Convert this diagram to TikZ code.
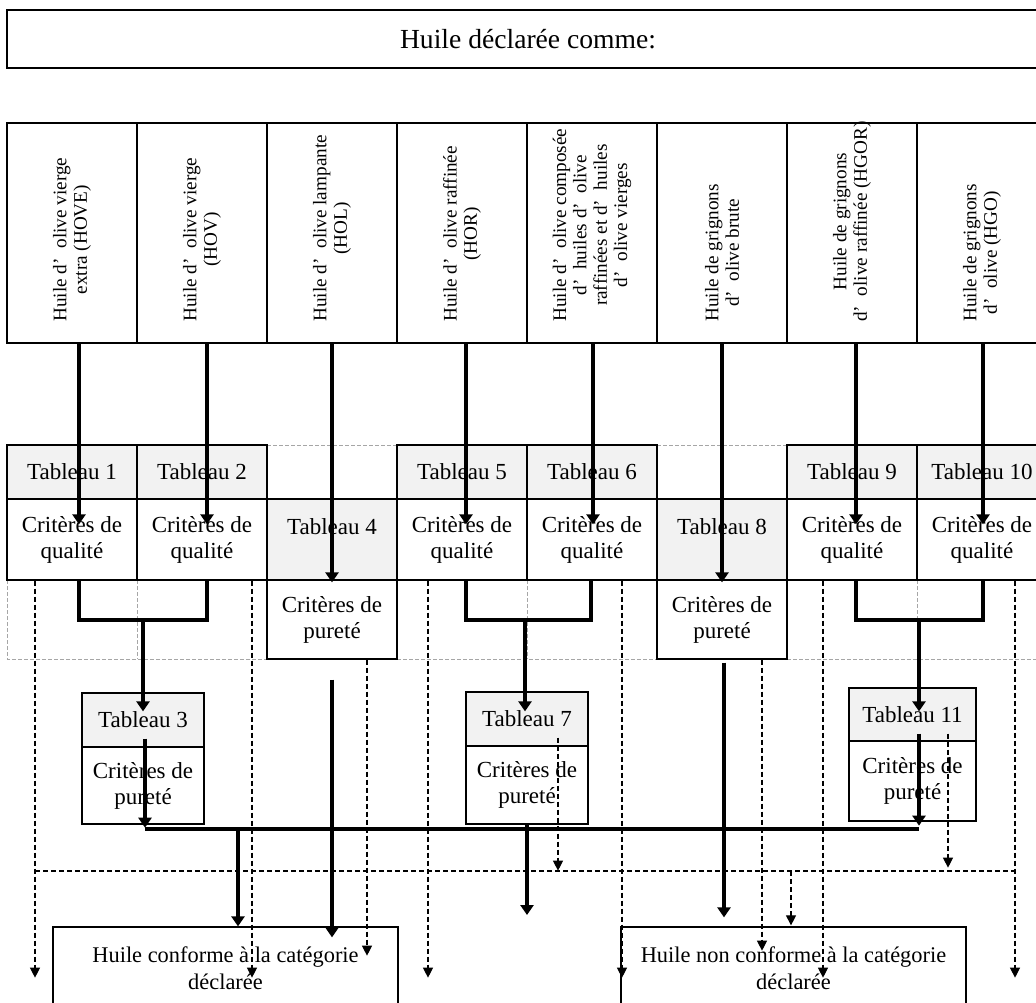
\documentclass[tikz,border=0pt]{standalone}
\usepackage{fontspec}
\setmainfont{Liberation Serif}
\usetikzlibrary{calc,arrows.meta}
\definecolor{hdrgray}{HTML}{F2F2F2}
\definecolor{gridgray}{HTML}{A6A6A6}
\begin{document}
\begin{tikzpicture}[x=0.5pt,y=-0.5pt,
  box/.style={draw, line width=0.65pt, inner sep=0pt, align=center, font=\fontsize{11.5}{13}\selectfont},
  hdr/.style={box, fill=hdrgray},
  colbox/.style={draw, line width=0.65pt, inner sep=0pt, minimum width=65pt, minimum height=110pt},
  vtext/.style={rotate=90, anchor=west, align=center, inner sep=0pt, font=\fontsize{9.6}{10.2}\selectfont},
  bigbox/.style={draw, line width=0.65pt, inner sep=0pt, align=center, font=\fontsize{11.2}{13.5}\selectfont},
  thk/.style={line width=2pt},
  thkarrow/.style={line width=2pt, -{Triangle[length=5pt,width=6.5pt]}},
  dasharrow/.style={line width=0.55pt, dash pattern=on 2.5pt off 1.5pt, -{Triangle[length=5pt,width=5pt]}},
  dline/.style={line width=0.55pt, dash pattern=on 2.5pt off 1.5pt},
  gridline/.style={draw=gridgray, line width=0.5pt, dash pattern=on 2pt off 1pt}
]
\useasboundingbox (0,0) rectangle (1036,1002);
\clip (0,0) rectangle (1036,1002);

% title
\node[draw, line width=0.65pt, minimum width=521pt, minimum height=29pt, inner sep=0pt,
      font=\fontsize{13.8}{15}\selectfont] (title) at (528,39) {\raisebox{-1.5pt}{Huile déclarée comme:}};

% category columns
\node[colbox] (c1) at (72,233) {};
\node[colbox] (c2) at (202,233) {};
\node[colbox] (c3) at (332,233) {};
\node[colbox] (c4) at (462,233) {};
\node[colbox] (c5) at (592,233) {};
\node[colbox] (c6) at (722,233) {};
\node[colbox] (c7) at (852,233) {};
\node[colbox] (c8) at (982,233) {};
\node[vtext] (l1) at (72,322) {Huile d’\ \ olive vierge\\extra (HOVE)};
\node[vtext] (l2) at (202,322) {Huile d’\ \ olive vierge\\(HOV)};
\node[vtext] (l3) at (332,322) {Huile d’\ \ olive lampante\\(HOL)};
\node[vtext] (l4) at (462,322) {Huile d’\ \ olive raffinée\\(HOR)};
\node[vtext] (l5) at (592,322) {Huile d’\ \ olive composée\\d’\ \ huiles d’\ \ olive\\raffinées et d’\ \ huiles\\d’\ \ olive vierges};
\node[vtext] (l6) at (722,322) {Huile de grignons\\d’\ \ olive brute};
\node[vtext] (l7) at (852,322) {Huile de grignons\\d’\ \ olive raffinée (HGOR)};
\node[vtext] (l8) at (982,322) {Huile de grignons\\d’\ \ olive (HGO)};

% grey dashed table grid
\draw[gridline] (267,445) -- (397,445);
\draw[gridline] (657,445) -- (787,445);
\draw[gridline] (7,580) -- (7,659) -- (267,659);
\draw[gridline] (137,580) -- (137,659);
\draw[gridline] (397,659) -- (657,659);
\draw[gridline] (527,580) -- (527,659);
\draw[gridline] (787,659) -- (1047,659) -- (1047,580);
\draw[gridline] (917,580) -- (917,659);

% tableau row
\node[hdr, minimum width=65pt, minimum height=27pt] (h1) at (72,472) {Tableau 1};
\node[hdr, minimum width=65pt, minimum height=27pt] (h2) at (202,472) {Tableau 2};
\node[hdr, minimum width=65pt, minimum height=27pt] (h5) at (462,472) {Tableau 5};
\node[hdr, minimum width=65pt, minimum height=27pt] (h6) at (592,472) {Tableau 6};
\node[hdr, minimum width=65pt, minimum height=27pt] (h9) at (852,472) {Tableau 9};
\node[hdr, minimum width=65pt, minimum height=27pt] (h10) at (982,472) {Tableau 10};
\node[box, minimum width=65pt, minimum height=40.5pt] (q1) at (72,539.5) {Critères de\\qualité};
\node[box, minimum width=65pt, minimum height=40.5pt] (q2) at (202,539.5) {Critères de\\qualité};
\node[box, minimum width=65pt, minimum height=40.5pt] (q5) at (462,539.5) {Critères de\\qualité};
\node[box, minimum width=65pt, minimum height=40.5pt] (q6) at (592,539.5) {Critères de\\qualité};
\node[box, minimum width=65pt, minimum height=40.5pt] (q9) at (852,539.5) {Critères de\\qualité};
\node[box, minimum width=65pt, minimum height=40.5pt] (q10) at (982,539.5) {Critères de\\qualité};
\node[hdr, minimum width=65pt, minimum height=40.5pt] (t4) at (332,539.5) {Tableau 4\\\mbox{}};
\node[hdr, minimum width=65pt, minimum height=40.5pt] (t8) at (722,539.5) {Tableau 8\\\mbox{}};
\node[box, minimum width=65pt, minimum height=39.5pt] (p4) at (332,619.5) {Critères de\\pureté};
\node[box, minimum width=65pt, minimum height=39.5pt] (p8) at (722,619.5) {Critères de\\pureté};

% second-level tables
\node[hdr, minimum width=61pt, minimum height=27pt] (h3) at (143,720) {Tableau 3};
\node[box, minimum width=61pt, minimum height=38.5pt] (p3) at (143,785.5) {Critères de\\pureté};
\node[hdr, minimum width=61pt, minimum height=27pt] (h7) at (527,719) {Tableau 7};
\node[box, minimum width=61pt, minimum height=39pt] (p7) at (527,785) {Critères de\\pureté};
\node[hdr, minimum width=63.5pt, minimum height=26.5pt] (h11) at (912.5,714.5) {Tableau 11};
\node[box, minimum width=63.5pt, minimum height=40pt] (p11) at (912.5,781) {Critères de\\pureté};

% result boxes
\node[bigbox, minimum width=172.5pt, minimum height=41.5pt] (conf) at (225.5,968.5) {Huile conforme à la catégorie\\déclarée};
\node[bigbox, minimum width=172.5pt, minimum height=41.5pt] (nconf) at (793.5,968.5) {Huile non conforme à la catégorie\\déclarée};

% thick arrows: categories -> tables
\draw[thkarrow] ($(c1.south)+(7,0)$) -- ($(q1.north)+(7,26)$);
\draw[thkarrow] ($(c2.south)+(5,0)$) -- ($(q2.north)+(5,26)$);
\draw[thkarrow] (c3.south) -- ($(p4.north)+(0,3)$);
\draw[thkarrow] ($(c4.south)+(4,0)$) -- ($(q5.north)+(4,26)$);
\draw[thkarrow] ($(c5.south)+(1,0)$) -- ($(q6.north)+(1,26)$);
\draw[thkarrow] (c6.south) -- ($(p8.north)+(0,3)$);
\draw[thkarrow] ($(c7.south)+(4,0)$) -- ($(q9.north)+(4,26)$);
\draw[thkarrow] ($(c8.south)+(1,0)$) -- ($(q10.north)+(1,26)$);

% brackets
\draw[thk] ($(q1.south)+(7,0)$) -- ++(0,39) -| ($(q2.south)+(5,0)$);
\draw[thkarrow] ($(q1.south)+(71,39)$) -- ($(h3.north)+(0,19)$);
\draw[thk] ($(q5.south)+(4,0)$) -- ++(0,39) -| ($(q6.south)+(-1,0)$);
\draw[thkarrow] ($(q5.south)+(63,39)$) -- ($(h7.north)+(-2,20)$);
\draw[thk] ($(q9.south)+(4,0)$) -- ++(0,39) -| ($(q10.south)+(1,0)$);
\draw[thkarrow] ($(q9.south)+(67,39)$) -- ($(h11.north)+(6.5,24)$);

% lower thick connectors
\draw[thkarrow] ($(h3.south)+(2,-9)$) -- ($(p3.south)+(2,3)$);
\draw[thk] ($(p3.south)+(2,4)$) -- ($(p11.south)+(6.5,7)$);
\draw[thkarrow] ($(h11.south)+(6.5,-8)$) -- ($(p11.south)+(6.5,4)$);
\coordinate (j1) at (238,830);
\draw[thkarrow] (j1) -- (j1 |- conf.north);
\draw[thkarrow] ($(p4.south)+(0,20)$) -- ($(p4.south |- conf.north)+(0,11)$);
\coordinate (e7) at (527,915);
\draw[thkarrow] (p7.south) -- (e7);
\draw[thkarrow] ($(p8.south)+(2,3)$) -- ($(p8.south |- nconf.north)+(2,-9)$);

% dashed (non-conformity) connectors
\draw[dasharrow] ($(q1.south)+(-37,0)$) -- ($(q1.south)+(-37,397)$);
\draw[dasharrow] ($(q2.south)+(50,0)$) -- ($(q2.south)+(50,397)$);
\draw[dasharrow] ($(p4.south)+(35,0)$) -- ($(p4.south)+(35,296)$);
\draw[dasharrow] ($(q5.south)+(-34,0)$) -- ($(q5.south)+(-34,397)$);
\draw[dasharrow] ($(h7.south)+(31,-9)$) -- ($(h7.south)+(31,124)$);
\draw[dasharrow] ($(q6.south)+(30,0)$) -- ($(q6.south)+(30,397)$);
\draw[dasharrow] ($(p8.south)+(40,0)$) -- ($(p8.south)+(40,291)$);
\draw[dasharrow] ($(q9.south)+(-29,0)$) -- ($(q9.south)+(-29,397)$);
\draw[dasharrow] ($(h11.south)+(35.5,-8)$) -- ($(h11.south)+(35.5,126)$);
\draw[dasharrow] ($(q10.south)+(33,0)$) -- ($(q10.south)+(33,397)$);
\coordinate (dl) at (35,871);
\coordinate (dr) at (1015,871);
\draw[dline] (dl) -- (dr);
\coordinate (d1) at (791,871);
\draw[dasharrow] (d1) -- ($(d1 |- nconf.north)+(0,-1)$);
\end{tikzpicture}
\end{document}
